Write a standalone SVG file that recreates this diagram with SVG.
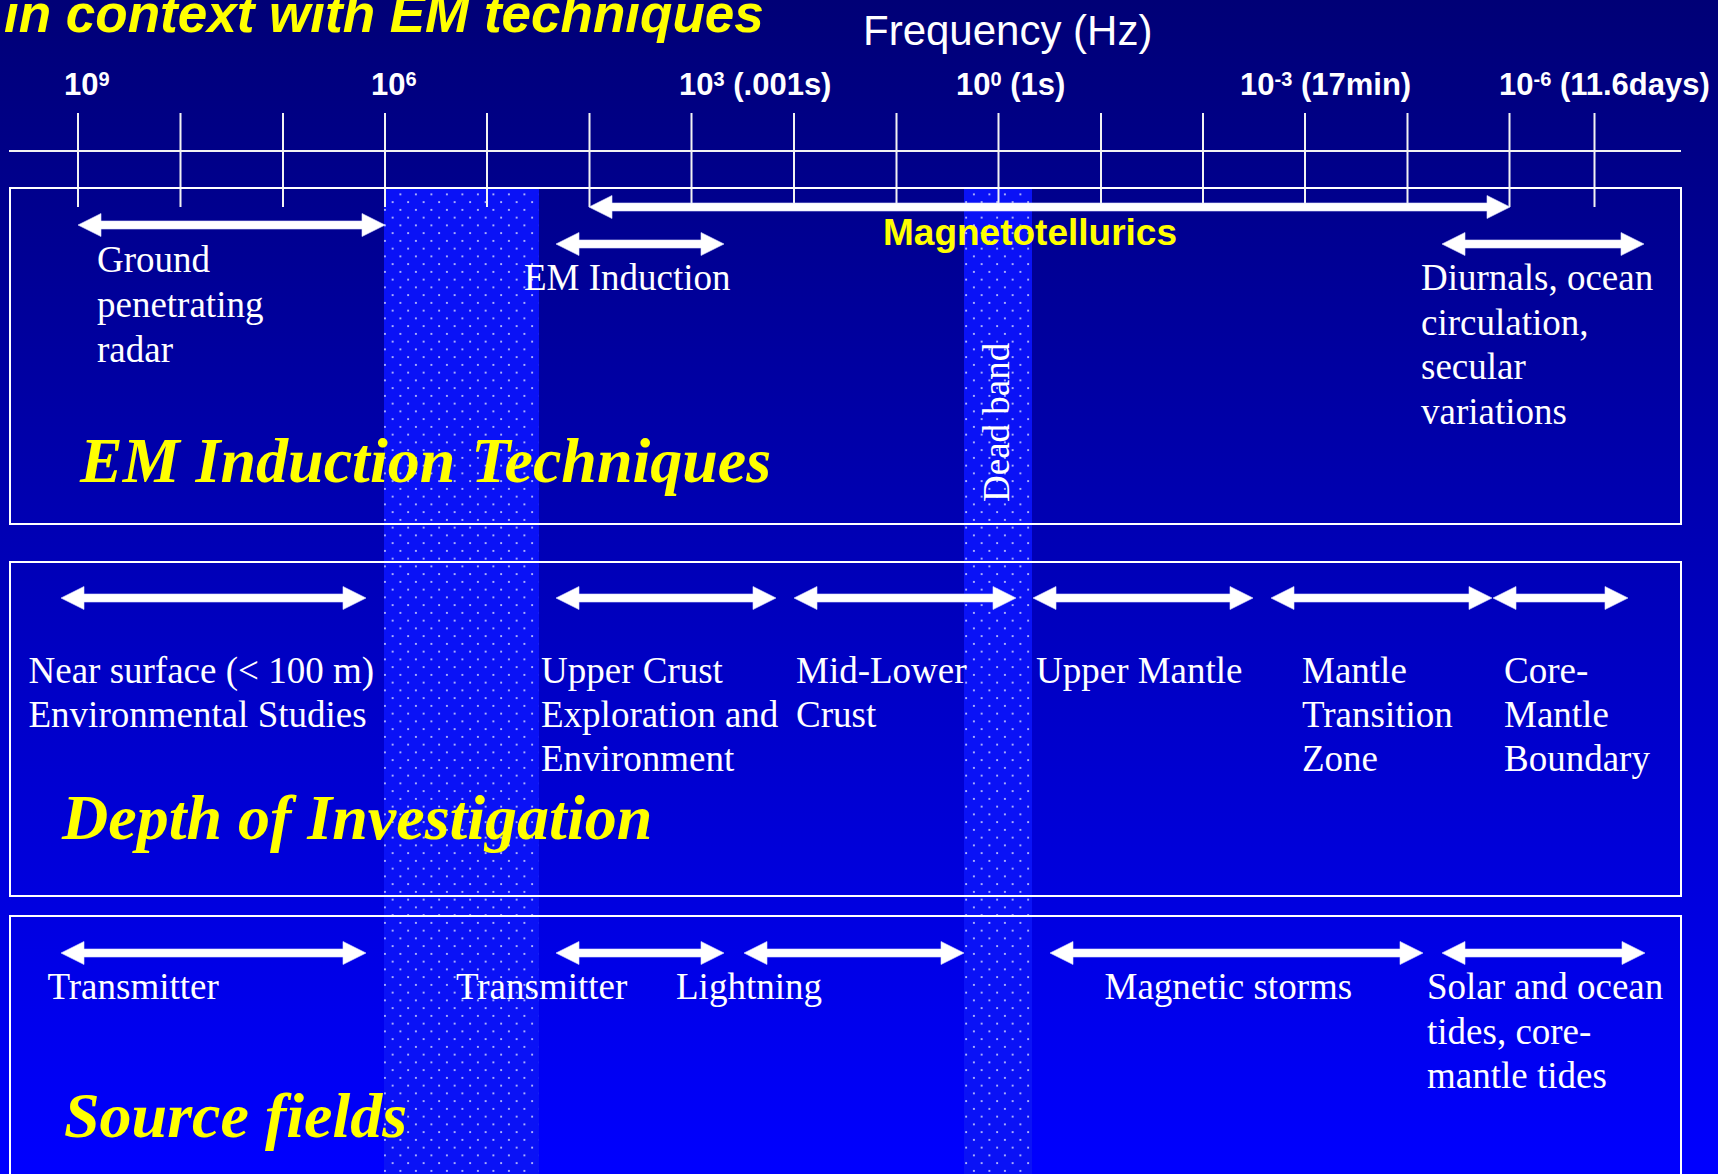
<svg xmlns="http://www.w3.org/2000/svg" width="1718" height="1174" viewBox="0 0 1718 1174">
  <defs>
    <linearGradient id="bg" x1="0" y1="0" x2="0" y2="1">
      <stop offset="0" stop-color="#000076"/>
      <stop offset="1" stop-color="#0000FF"/>
    </linearGradient>
    <pattern id="dots" width="15.5" height="15.5" patternUnits="userSpaceOnUse" x="381" y="500.5">
      <rect width="15.5" height="15.5" fill="#0A12F6"/>
      <circle cx="3.9" cy="3.9" r="1" fill="#D8DCFF"/>
      <circle cx="11.65" cy="11.65" r="1" fill="#D8DCFF"/>
    </pattern>
    <style>
      .box { fill: none; stroke: #FFFFFF; stroke-width: 2; }
      .tick { stroke: #F2F2F2; stroke-width: 2; }
      .lbl { font-family: "Liberation Serif", "Times New Roman", serif; font-size: 37px; fill: #FFFFFF; }
      .head { font-family: "Liberation Serif", "Times New Roman", serif; font-size: 64px; font-weight: bold; font-style: italic; fill: #FFFF00; }
      .ax { font-family: "Liberation Sans", Arial, sans-serif; font-size: 31px; font-weight: bold; fill: #FFFFFF; }
      .sup { font-size: 20px; }
      .arrow { fill: #FFFFFF; stroke: #DDE0FF; stroke-width: 0.6; }
    </style>
  </defs>

  <rect id="background" x="0" y="0" width="1718" height="1174" fill="url(#bg)"/>

  <g id="bands">
    <rect id="band-1" x="384" y="188" width="155" height="986" fill="url(#dots)"/>
    <rect id="dead-band" x="964" y="188" width="68" height="986" fill="url(#dots)"/>
  </g>

  <g id="title">
    <text x="4" y="32" font-family="Liberation Sans, Arial, sans-serif" font-size="53" font-weight="bold" font-style="italic" fill="#FFFF00">in context with EM techniques</text>
    <text x="863" y="45" font-family="Liberation Sans, Arial, sans-serif" font-size="42" fill="#FFFFFF">Frequency (Hz)</text>
  </g>

  <g id="axis">
    <line class="tick" x1="9" y1="151" x2="1681" y2="151"/>
    <line class="tick" x1="78" y1="113" x2="78" y2="207"/>
    <line class="tick" x1="180.5" y1="113" x2="180.5" y2="207"/>
    <line class="tick" x1="283" y1="113" x2="283" y2="207"/>
    <line class="tick" x1="385" y1="113" x2="385" y2="207"/>
    <line class="tick" x1="487" y1="113" x2="487" y2="207"/>
    <line class="tick" x1="589.5" y1="113" x2="589.5" y2="207"/>
    <line class="tick" x1="691.5" y1="113" x2="691.5" y2="207"/>
    <line class="tick" x1="794" y1="113" x2="794" y2="207"/>
    <line class="tick" x1="896.5" y1="113" x2="896.5" y2="207"/>
    <line class="tick" x1="998.5" y1="113" x2="998.5" y2="207"/>
    <line class="tick" x1="1101" y1="113" x2="1101" y2="207"/>
    <line class="tick" x1="1203" y1="113" x2="1203" y2="207"/>
    <line class="tick" x1="1305" y1="113" x2="1305" y2="207"/>
    <line class="tick" x1="1407.5" y1="113" x2="1407.5" y2="207"/>
    <line class="tick" x1="1509.5" y1="113" x2="1509.5" y2="207"/>
    <line class="tick" x1="1594.5" y1="113" x2="1594.5" y2="207"/>
    <text class="ax" x="64" y="95">10<tspan class="sup" dy="-9">9</tspan></text>
    <text class="ax" x="371" y="95">10<tspan class="sup" dy="-9">6</tspan></text>
    <text class="ax" x="679" y="95">10<tspan class="sup" dy="-9">3</tspan><tspan dy="9"> (.001s)</tspan></text>
    <text class="ax" x="956" y="95">10<tspan class="sup" dy="-9">0</tspan><tspan dy="9"> (1s)</tspan></text>
    <text class="ax" x="1240" y="95">10<tspan class="sup" dy="-9">-3</tspan><tspan dy="9"> (17min)</tspan></text>
    <text class="ax" x="1499" y="95">10<tspan class="sup" dy="-9">-6</tspan><tspan dy="9"> (11.6days)</tspan></text>
  </g>

  <g id="em-induction-techniques">
    <rect class="box" x="10" y="188" width="1671" height="336"/>
    <text class="lbl" x="97" y="272">Ground</text>
    <text class="lbl" x="97" y="317">penetrating</text>
    <text class="lbl" x="97" y="362">radar</text>
    <text class="lbl" x="524" y="290">EM Induction</text>
    <text x="883" y="245" font-family="Liberation Sans, Arial, sans-serif" font-size="37" font-weight="bold" fill="#FFFF00">Magnetotellurics</text>
    <text class="lbl" x="1421" y="290">Diurnals, ocean</text>
    <text class="lbl" x="1421" y="335">circulation,</text>
    <text class="lbl" x="1421" y="379">secular</text>
    <text class="lbl" x="1421" y="424">variations</text>
    <text class="head" x="80" y="482">EM Induction Techniques</text>
    <text class="lbl" transform="translate(1009,502) rotate(-90)">Dead band</text>
  </g>

  <g id="depth-of-investigation">
    <rect class="box" x="10" y="562" width="1671" height="334"/>
    <text class="lbl" x="28.5" y="683">Near surface (&lt; 100 m)</text>
    <text class="lbl" x="28.5" y="727">Environmental Studies</text>
    <text class="lbl" x="541" y="683">Upper Crust</text>
    <text class="lbl" x="541" y="727">Exploration and</text>
    <text class="lbl" x="541" y="771">Environment</text>
    <text class="lbl" x="796" y="683">Mid-Lower</text>
    <text class="lbl" x="796" y="727">Crust</text>
    <text class="lbl" x="1036" y="683">Upper Mantle</text>
    <text class="lbl" x="1302" y="683">Mantle</text>
    <text class="lbl" x="1302" y="727">Transition</text>
    <text class="lbl" x="1302" y="771">Zone</text>
    <text class="lbl" x="1504" y="683">Core-</text>
    <text class="lbl" x="1504" y="727">Mantle</text>
    <text class="lbl" x="1504" y="771">Boundary</text>
    <text class="head" x="62" y="839">Depth of Investigation</text>
  </g>

  <g id="source-fields">
    <rect class="box" x="10" y="916" width="1671" height="300"/>
    <text class="lbl" x="47.5" y="999">Transmitter</text>
    <text class="lbl" x="456" y="999">Transmitter</text>
    <text class="lbl" x="676" y="999">Lightning</text>
    <text class="lbl" x="1104.5" y="999">Magnetic storms</text>
    <text class="lbl" x="1427" y="999">Solar and ocean</text>
    <text class="lbl" x="1427" y="1044">tides, core-</text>
    <text class="lbl" x="1427" y="1088">mantle tides</text>
    <text class="head" x="64" y="1137">Source fields</text>
  </g>

  <g id="connectors">
    <!-- row 1 -->
    <path class="arrow" d="M78,225 L101,213.5 L101,221 L362,221 L362,213.5 L385,225 L362,236.5 L362,229 L101,229 L101,236.5 Z"/>
    <path class="arrow" d="M589,207 L612,195.5 L612,203 L1487,203 L1487,195.5 L1510,207 L1487,218.5 L1487,211 L612,211 L612,218.5 Z"/>
    <path class="arrow" d="M556,244 L579,232.5 L579,240 L701,240 L701,232.5 L724,244 L701,255.5 L701,248 L579,248 L579,255.5 Z"/>
    <path class="arrow" d="M1442,244 L1465,232.5 L1465,240 L1621,240 L1621,232.5 L1644,244 L1621,255.5 L1621,248 L1465,248 L1465,255.5 Z"/>
    <!-- row 2 -->
    <path class="arrow" d="M61,598 L84,586.5 L84,594 L343,594 L343,586.5 L366,598 L343,609.5 L343,602 L84,602 L84,609.5 Z"/>
    <path class="arrow" d="M556,598 L579,586.5 L579,594 L753,594 L753,586.5 L776,598 L753,609.5 L753,602 L579,602 L579,609.5 Z"/>
    <path class="arrow" d="M794,598 L817,586.5 L817,594 L993,594 L993,586.5 L1016,598 L993,609.5 L993,602 L817,602 L817,609.5 Z"/>
    <path class="arrow" d="M1033,598 L1056,586.5 L1056,594 L1230,594 L1230,586.5 L1253,598 L1230,609.5 L1230,602 L1056,602 L1056,609.5 Z"/>
    <path class="arrow" d="M1271,598 L1294,586.5 L1294,594 L1469,594 L1469,586.5 L1492,598 L1469,609.5 L1469,602 L1294,602 L1294,609.5 Z"/>
    <path class="arrow" d="M1493,598 L1516,586.5 L1516,594 L1605,594 L1605,586.5 L1628,598 L1605,609.5 L1605,602 L1516,602 L1516,609.5 Z"/>
    <!-- row 3 -->
    <path class="arrow" d="M61,953 L84,941.5 L84,949 L343,949 L343,941.5 L366,953 L343,964.5 L343,957 L84,957 L84,964.5 Z"/>
    <path class="arrow" d="M556,953 L579,941.5 L579,949 L701,949 L701,941.5 L724,953 L701,964.5 L701,957 L579,957 L579,964.5 Z"/>
    <path class="arrow" d="M744,953 L767,941.5 L767,949 L941,949 L941,941.5 L964,953 L941,964.5 L941,957 L767,957 L767,964.5 Z"/>
    <path class="arrow" d="M1050,953 L1073,941.5 L1073,949 L1400,949 L1400,941.5 L1423,953 L1400,964.5 L1400,957 L1073,957 L1073,964.5 Z"/>
    <path class="arrow" d="M1442,953 L1465,941.5 L1465,949 L1622,949 L1622,941.5 L1645,953 L1622,964.5 L1622,957 L1465,957 L1465,964.5 Z"/>
  </g>
</svg>
